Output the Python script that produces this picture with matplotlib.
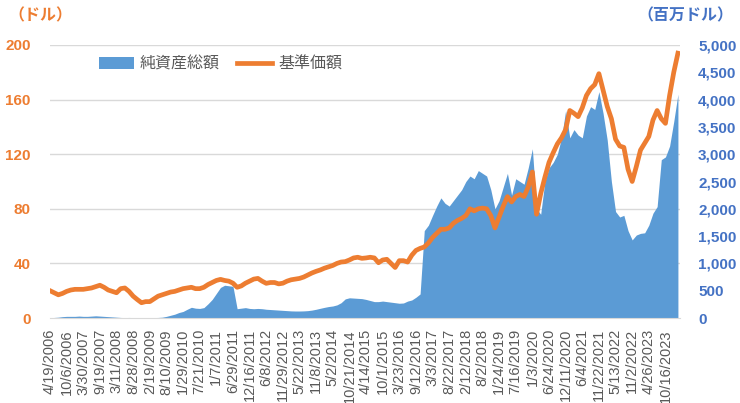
import numpy as np
import matplotlib
matplotlib.use('Agg')
import matplotlib.pyplot as plt
from matplotlib.patches import Patch
from matplotlib.lines import Line2D

plt.rcParams['font.family'] = ['Liberation Sans', 'Noto Sans CJK JP']

# tick labels (one every 120 trading days)
dates = ['4/19/2006', '10/6/2006', '3/30/2007', '9/19/2007', '3/11/2008', '8/28/2008',
         '2/19/2009', '8/10/2009', '1/29/2010', '7/21/2010', '1/7/2011', '6/29/2011',
         '12/16/2011', '6/8/2012', '11/29/2012', '5/22/2013', '11/8/2013', '5/2/2014',
         '10/21/2014', '4/14/2015', '10/1/2015', '3/23/2016', '9/12/2016', '3/3/2017',
         '8/22/2017', '2/12/2018', '8/2/2018', '1/24/2019', '7/16/2019', '1/3/2020',
         '6/24/2020', '12/11/2020', '6/4/2021', '11/22/2021', '5/13/2022', '11/2/2022',
         '4/26/2023', '10/16/2023']
label_every = 120   # trading days between labels
step = 30           # trading days between samples

# 基準価額 (USD), sampled every 30 trading days
nav = [20, 18.5, 17, 18, 19.5, 20.5, 21, 21, 21, 21.5,
       22, 23, 24, 22.5, 20.5, 19.5, 18.5, 21.5, 22, 19.5,
       16, 13.5, 11.2, 12, 12, 14, 16, 17, 18, 19,
       19.5, 20.5, 21.5, 22, 22.5, 21.5, 21.5, 22.5, 24.5, 26,
       27.5, 28.3, 27.5, 27, 25.5, 22.5, 23.5, 25.5, 27, 28.5,
       29, 27, 25.4, 26, 26, 25, 25.5, 27, 28, 28.5,
       29, 30, 31.5, 33, 34.2, 35.2, 36.5, 37.5, 38.5, 40,
       41, 41.3, 42.5, 44, 44.5, 43.7, 44, 44.5, 44, 40.5,
       42.5, 43, 40, 37, 42, 42, 41, 46, 49.5, 51,
       52, 55, 59, 62, 65, 65, 66, 69.4, 71.5, 73,
       75, 80, 78.5, 80, 80.5, 80, 75, 66, 74, 82,
       88.9, 85, 89, 90.5, 89, 96, 107, 76, 91, 103,
       114, 121, 127.5, 132, 138, 152, 150, 147.5, 154, 163,
       168, 171, 179, 167, 155, 146, 131, 126, 125, 109,
       100, 111, 123, 128, 133, 145, 152, 146, 142.6, 163,
       180, 194]

# 純資産総額 (million USD), same sampling
aum = [5, 10, 15, 25, 30, 30, 30, 35, 30, 30,
       35, 40, 35, 30, 25, 20, 15, 10, 8, 10,
       8, 5, 5, 5, 5, 8, 10, 15, 30, 50,
       70, 100, 120, 160, 196, 180, 175, 190, 260, 340,
       450, 560, 600, 590, 580, 170, 180, 190, 175, 170,
       175, 170, 160, 155, 150, 145, 140, 135, 130, 128,
       128, 130, 135, 145, 160, 178, 195, 210, 220, 240,
       280, 350, 370, 365, 360, 355, 340, 320, 300, 300,
       310, 300, 290, 280, 270, 275, 310, 330, 380, 440,
       1600, 1700, 1880, 2050, 2200, 2100, 2050, 2150, 2250, 2350,
       2500, 2600, 2550, 2700, 2650, 2600, 2350, 2000, 2150, 2400,
       2650, 2250, 2550, 2500, 2450, 2750, 3100, 2000, 1900, 2500,
       2750, 2850, 3000, 3300, 3800, 3300, 3450, 3350, 3300, 3700,
       3870, 3820, 4146, 3750, 3260, 2500, 1950, 1850, 1880, 1600,
       1430, 1520, 1550, 1560, 1700, 1920, 2040, 2900, 2950, 3150,
       3600, 4100]

orange = '#ED7D31'
blue = '#5B9BD5'
blue_txt = '#4472C4'
grey_txt = '#595959'

x = np.arange(len(nav)) * step

fig = plt.figure(figsize=(7.4, 4.03), dpi=100)
ax1 = fig.add_axes([50 / 740, 1 - 318 / 403, 630 / 740, 273 / 403])
ax2 = ax1.twinx()
ax1.set_zorder(ax2.get_zorder() + 1)
ax1.patch.set_visible(False)

# area (right axis), gridlines kept behind it
for g in range(1000, 5001, 1000):
    ax2.axhline(g, color='#D9D9D9', lw=1, zorder=0)
ax2.fill_between(x, 0, aum, color=blue, lw=0, zorder=2)
ax2.set_ylim(0, 5000)
ax2.set_yticks(range(0, 5001, 500))
ax2.set_yticklabels([f'{v:,}' for v in range(0, 5001, 500)])

# line (left axis)
ax1.plot(x, nav, color=orange, lw=3.4, solid_joinstyle='round')
ax1.set_ylim(0, 200)
ax1.set_yticks(range(0, 201, 40))
ax1.set_xlim(0, 4545)
ax1.set_xticks(np.arange(len(dates)) * label_every)
ax1.set_xticklabels(dates, rotation=90, fontsize=10.5, color=grey_txt)

for a in (ax1, ax2):
    for s in a.spines.values():
        s.set_visible(False)
    a.tick_params(length=0)
ax2.spines['bottom'].set_visible(True)
ax2.spines['bottom'].set_color('#D9D9D9')

ax1.tick_params(axis='y', labelsize=11, labelcolor=orange, pad=14)
ax2.tick_params(axis='y', labelsize=11, labelcolor=blue_txt, pad=13)
ax1.tick_params(axis='x', pad=8)
for t in ax1.get_yticklabels() + ax2.get_yticklabels():
    t.set_fontweight('bold')

fig.text(8 / 740, 1 - 16 / 403, '（ドル）', color=orange, fontsize=11.5,
         fontweight='bold', va='center', ha='left')
fig.text(733 / 740, 1 - 16 / 403, '（百万ドル）', color=blue_txt, fontsize=11.5,
         fontweight='bold', va='center', ha='right')

handles = [Patch(facecolor=blue, edgecolor='none'),
           Line2D([], [], color=orange, lw=3.4)]
ax1.legend(handles, ['純資産総額', '基準価額'], ncol=2, frameon=False,
           loc='center left', bbox_to_anchor=(0.055, 0.93), fontsize=11.5,
           handlelength=2.2, handleheight=0.8, handletextpad=0.35,
           columnspacing=1.1, labelcolor=grey_txt)

fig.savefig('out.png', dpi=100)
